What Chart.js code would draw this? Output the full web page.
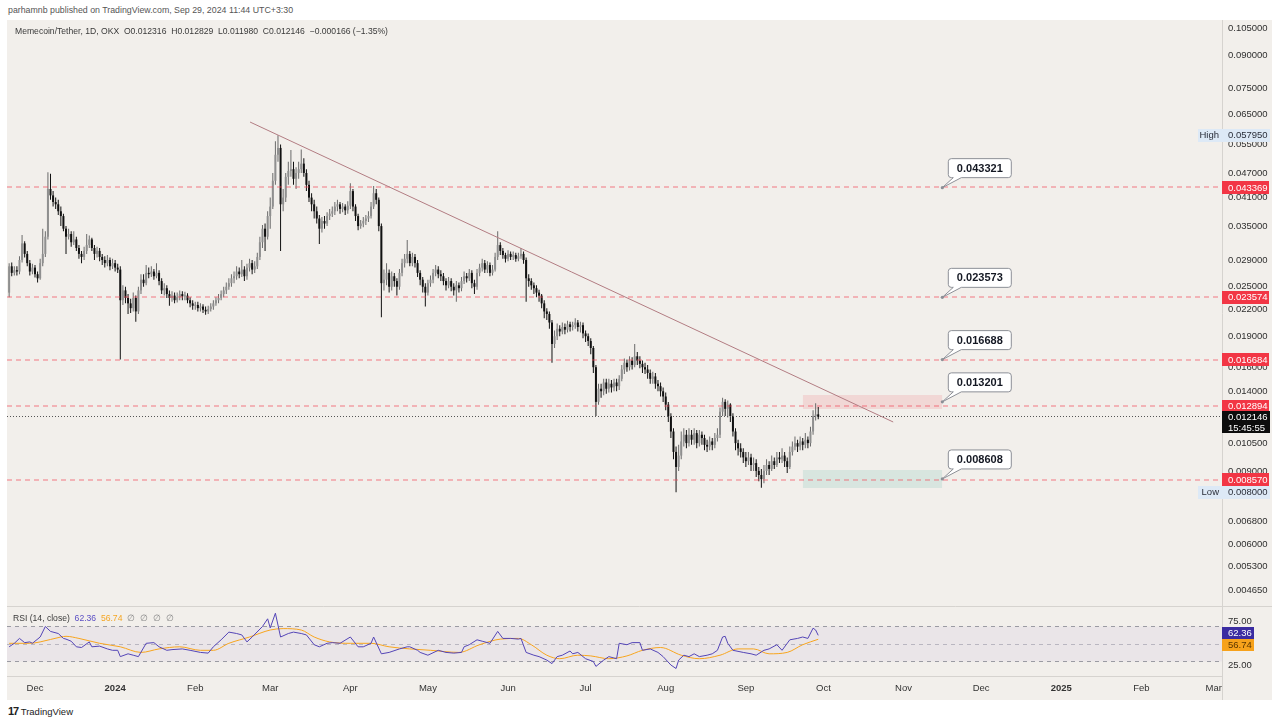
<!DOCTYPE html>
<html><head><meta charset="utf-8"><title>Memecoin/Tether 1D</title>
<script src="https://cdn.jsdelivr.net/npm/chart.js@4.4.1/dist/chart.umd.min.js"></script>
<style>
html,body{margin:0;padding:0;background:#fff;}
body{width:1280px;height:723px;position:relative;overflow:hidden;font-family:"Liberation Sans",Arial,sans-serif;}
.t{position:absolute;white-space:pre;line-height:12px;}
#frame{position:absolute;left:7px;top:20px;width:1265px;height:680px;background:#f2efeb;}
canvas{position:absolute;left:7px;}
#c1{top:20px;} #c2{top:606px;}
</style></head><body>
<div class="t" style="left:8px;top:4px;font-size:8.8px;color:#555">parhamnb published on TradingView.com, Sep 29, 2024 11:44 UTC+3:30</div>
<div id="frame"></div>
<canvas id="c1" width="1265" height="586"></canvas>
<canvas id="c2" width="1265" height="94"></canvas>
<div class="t" style="left:15px;top:25px;font-size:8.6px;color:#3a3a3a">Memecoin/Tether, 1D, OKX  O0.012316  H0.012829  L0.011980  C0.012146  −0.000166 (−1.35%)</div>
<div class="t" style="left:13px;top:612px;font-size:8.6px;color:#3a3a3a">RSI (14, close)  <span style="color:#5b4fc4">62.36</span>  <span style="color:#f5a623">56.74</span>  <span style="color:#888">∅  ∅  ∅  ∅</span></div>
<div class="t" style="left:8px;top:705px;font-size:9.5px;color:#222"><b style="letter-spacing:-1px;font-size:11px">17</b> TradingView</div>
<script>
// ---- candles: index 0 = 2023-11-21 (daily, OKX MEME/USDT) ----
const firstDay = -10; // days relative to 2023-12-01
const opens = [
0.0242,0.0280,0.0270,0.0274,0.0272,0.0290,0.0318,0.0300,0.0285,0.0272,
0.0278,0.0268,0.0262,0.0285,0.0300,0.0330,0.0430,0.0415,0.0400,0.0395,
0.0380,0.0370,0.0345,0.0330,0.0335,0.0320,0.0325,0.0310,0.0300,0.0295,
0.0305,0.0315,0.0325,0.0310,0.0300,0.0305,0.0295,0.0290,0.0285,0.0290,
0.0280,0.0285,0.0278,0.0275,0.0232,0.0245,0.0235,0.0228,0.0222,0.0235,
0.0218,0.0245,0.0260,0.0255,0.0270,0.0268,0.0272,0.0265,0.0270,0.0258,
0.0245,0.0248,0.0240,0.0235,0.0238,0.0232,0.0236,0.0240,0.0237,0.0238,
0.0232,0.0228,0.0225,0.0226,0.0222,0.0224,0.0220,0.0218,0.0221,0.0224,
0.0228,0.0232,0.0235,0.0240,0.0245,0.0250,0.0255,0.0262,0.0265,0.0272,
0.0268,0.0275,0.0265,0.0278,0.0285,0.0275,0.0280,0.0295,0.0320,0.0345,
0.0330,0.0370,0.0390,0.0450,0.0520,0.0540,0.0395,0.0410,0.0460,0.0475,
0.0480,0.0455,0.0470,0.0480,0.0495,0.0470,0.0440,0.0410,0.0395,0.0380,
0.0365,0.0345,0.0360,0.0355,0.0370,0.0375,0.0380,0.0390,0.0395,0.0385,
0.0390,0.0382,0.0392,0.0425,0.0390,0.0370,0.0350,0.0355,0.0360,0.0365,
0.0370,0.0390,0.0420,0.0405,0.0350,0.0255,0.0260,0.0270,0.0250,0.0265,
0.0258,0.0250,0.0270,0.0285,0.0292,0.0300,0.0285,0.0295,0.0285,0.0270,
0.0260,0.0250,0.0242,0.0255,0.0260,0.0270,0.0275,0.0268,0.0265,0.0258,
0.0252,0.0258,0.0250,0.0245,0.0252,0.0248,0.0258,0.0265,0.0262,0.0270,
0.0255,0.0250,0.0270,0.0278,0.0285,0.0275,0.0282,0.0270,0.0275,0.0295,
0.0315,0.0305,0.0298,0.0292,0.0300,0.0295,0.0298,0.0292,0.0296,0.0300,
0.0290,0.0262,0.0258,0.0252,0.0248,0.0242,0.0238,0.0228,0.0218,0.0215,
0.0205,0.0182,0.0190,0.0198,0.0195,0.0200,0.0197,0.0203,0.0200,0.0202,
0.0205,0.0200,0.0202,0.0193,0.0190,0.0185,0.0178,0.0160,0.0132,0.0142,
0.0140,0.0147,0.0142,0.0146,0.0143,0.0147,0.0144,0.0150,0.0158,0.0164,
0.0160,0.0166,0.0162,0.0170,0.0166,0.0163,0.0160,0.0158,0.0155,0.0150,
0.0152,0.0146,0.0144,0.0140,0.0136,0.0130,0.0122,0.0112,0.0100,0.0092,
0.0098,0.0106,0.0110,0.0105,0.0110,0.0107,0.0111,0.0105,0.0110,0.0108,
0.0104,0.0103,0.0106,0.0104,0.0108,0.0110,0.0125,0.0132,0.0127,0.0130,
0.0122,0.0112,0.0105,0.0102,0.0100,0.0097,0.0095,0.0097,0.0093,0.0094,
0.0090,0.0088,0.0086,0.0090,0.0093,0.0091,0.0095,0.0093,0.0097,0.0096,
0.0098,0.0095,0.0092,0.0100,0.0103,0.0105,0.0103,0.0106,0.0104,0.0107,
0.0105,0.0112,0.0122,0.012316];
const highs = [
0.0285,0.0286,0.0280,0.0280,0.0296,0.0333,0.0322,0.0305,0.0290,0.0284,
0.0282,0.0272,0.0292,0.0345,0.0340,0.0472,0.0468,0.0425,0.0410,0.0405,
0.0390,0.0375,0.0350,0.0345,0.0340,0.0340,0.0330,0.0315,0.0305,0.0312,
0.0335,0.0332,0.0328,0.0315,0.0312,0.0310,0.0300,0.0296,0.0298,0.0294,
0.0292,0.0290,0.0284,0.0280,0.0252,0.0250,0.0240,0.0234,0.0242,0.0238,
0.0250,0.0268,0.0268,0.0282,0.0278,0.0280,0.0276,0.0285,0.0274,0.0262,
0.0255,0.0252,0.0245,0.0244,0.0242,0.0242,0.0245,0.0244,0.0243,0.0241,
0.0236,0.0232,0.0230,0.0230,0.0228,0.0227,0.0224,0.0225,0.0228,0.0232,
0.0236,0.0240,0.0245,0.0250,0.0256,0.0262,0.0268,0.0272,0.0280,0.0278,
0.0290,0.0280,0.0284,0.0292,0.0290,0.0288,0.0302,0.0330,0.0352,0.0355,
0.0380,0.0410,0.0470,0.0560,0.05795,0.0550,0.0430,0.0470,0.0500,0.0534,
0.0500,0.0485,0.0500,0.0535,0.0510,0.0480,0.0450,0.0420,0.0405,0.0390,
0.0372,0.0368,0.0370,0.0378,0.0385,0.0390,0.0400,0.0405,0.0400,0.0398,
0.0395,0.0402,0.0444,0.0430,0.0395,0.0375,0.0362,0.0368,0.0372,0.0380,
0.0400,0.0437,0.0430,0.0410,0.0355,0.0275,0.0285,0.0275,0.0272,0.0270,
0.0262,0.0276,0.0292,0.0300,0.0324,0.0305,0.0302,0.0300,0.0290,0.0274,
0.0264,0.0255,0.0260,0.0266,0.0276,0.0282,0.0280,0.0274,0.0270,0.0262,
0.0264,0.0262,0.0255,0.0258,0.0256,0.0264,0.0272,0.0270,0.0276,0.0274,
0.0260,0.0276,0.0284,0.0292,0.0290,0.0288,0.0286,0.0282,0.0302,0.0340,
0.0320,0.0310,0.0302,0.0306,0.0304,0.0304,0.0302,0.0302,0.0310,0.0304,
0.0294,0.0268,0.0262,0.0256,0.0252,0.0246,0.0240,0.0232,0.0222,0.0218,
0.0208,0.0196,0.0204,0.0202,0.0205,0.0204,0.0207,0.0206,0.0206,0.0210,
0.0208,0.0206,0.0205,0.0196,0.0193,0.0188,0.0180,0.0162,0.0146,0.0146,
0.0150,0.0150,0.0150,0.0149,0.0150,0.0150,0.0153,0.0162,0.0168,0.0167,
0.0170,0.0169,0.0182,0.0174,0.0170,0.0166,0.0164,0.0162,0.0158,0.0156,
0.0155,0.0149,0.0147,0.0143,0.0139,0.0132,0.0124,0.0114,0.0103,0.0104,
0.0112,0.0114,0.0113,0.0114,0.0113,0.0114,0.0113,0.0113,0.0112,0.0110,
0.0107,0.0109,0.0108,0.0111,0.0114,0.0128,0.0135,0.0134,0.0133,0.0131,
0.0124,0.0114,0.0107,0.0105,0.0102,0.0100,0.0100,0.0099,0.0097,0.0096,
0.0092,0.0091,0.0093,0.0096,0.0095,0.0098,0.0097,0.0100,0.0100,0.0102,
0.0100,0.0097,0.0103,0.0106,0.0109,0.0107,0.0109,0.0108,0.0111,0.0109,
0.0115,0.0126,0.0131,0.012829];
const lows = [
0.0236,0.0265,0.0266,0.0266,0.0268,0.0286,0.0294,0.0280,0.0266,0.0268,
0.0263,0.0256,0.0260,0.0280,0.0295,0.0325,0.0405,0.0390,0.0385,0.0372,
0.0350,0.0340,0.0300,0.0325,0.0312,0.0315,0.0305,0.0292,0.0285,0.0290,
0.0300,0.0310,0.0305,0.0290,0.0294,0.0288,0.0282,0.0278,0.0280,0.0274,
0.0276,0.0272,0.0270,0.0167,0.0226,0.0228,0.0215,0.0216,0.0218,0.0206,
0.0215,0.0240,0.0250,0.0252,0.0262,0.0264,0.0260,0.0262,0.0252,0.0240,
0.0238,0.0235,0.0225,0.0230,0.0228,0.0229,0.0232,0.0232,0.0232,0.0228,
0.0223,0.0220,0.0220,0.0218,0.0218,0.0216,0.0214,0.0215,0.0218,0.0220,
0.0225,0.0228,0.0232,0.0236,0.0240,0.0246,0.0250,0.0255,0.0260,0.0262,
0.0264,0.0258,0.0260,0.0272,0.0268,0.0270,0.0276,0.0290,0.0310,0.0305,
0.0325,0.0345,0.0385,0.0440,0.0500,0.0305,0.0380,0.0400,0.0440,0.0460,
0.0440,0.0430,0.0455,0.0470,0.0460,0.0425,0.0400,0.0380,0.0365,0.0355,
0.0317,0.0338,0.0345,0.0350,0.0362,0.0368,0.0372,0.0380,0.0375,0.0378,
0.0372,0.0375,0.0385,0.0380,0.0360,0.0342,0.0345,0.0348,0.0352,0.0358,
0.0365,0.0385,0.0395,0.0340,0.0211,0.0245,0.0252,0.0242,0.0245,0.0250,
0.0238,0.0246,0.0265,0.0278,0.0285,0.0280,0.0280,0.0278,0.0264,0.0252,
0.0242,0.0224,0.0238,0.0250,0.0255,0.0265,0.0262,0.0258,0.0252,0.0245,
0.0248,0.0244,0.0238,0.0230,0.0242,0.0244,0.0254,0.0256,0.0258,0.0248,
0.0240,0.0246,0.0265,0.0272,0.0270,0.0270,0.0265,0.0266,0.0272,0.0290,
0.0298,0.0292,0.0286,0.0288,0.0290,0.0290,0.0287,0.0288,0.0292,0.0284,
0.0230,0.0250,0.0246,0.0240,0.0236,0.0230,0.0222,0.0210,0.0208,0.0198,
0.0164,0.0178,0.0186,0.0190,0.0192,0.0192,0.0194,0.0195,0.0196,0.0198,
0.0195,0.0194,0.0188,0.0184,0.0180,0.0172,0.0155,0.0122,0.0130,0.0135,
0.0137,0.0138,0.0139,0.0139,0.0140,0.0140,0.0141,0.0148,0.0154,0.0156,
0.0157,0.0158,0.0160,0.0162,0.0159,0.0155,0.0154,0.0150,0.0146,0.0146,
0.0142,0.0140,0.0136,0.0132,0.0126,0.0118,0.0108,0.0096,0.0080,0.0090,
0.0096,0.0103,0.0102,0.0103,0.0104,0.0104,0.0102,0.0103,0.0104,0.0101,
0.0100,0.0101,0.0101,0.0102,0.0106,0.0108,0.0122,0.0122,0.0121,0.0118,
0.0109,0.0101,0.0098,0.0097,0.0094,0.0092,0.0093,0.0090,0.0090,0.0087,
0.0085,0.0082,0.0084,0.0088,0.0088,0.0090,0.0091,0.0092,0.0094,0.0094,
0.0092,0.0089,0.0091,0.0098,0.0101,0.0100,0.0101,0.0101,0.0102,0.0102,
0.0103,0.0110,0.0119,0.011980];
const closes = [
0.0280,0.0270,0.0274,0.0272,0.0290,0.0318,0.0300,0.0285,0.0272,0.0278,
0.0268,0.0262,0.0285,0.0300,0.0330,0.0430,0.0415,0.0400,0.0395,0.0380,
0.0370,0.0345,0.0330,0.0335,0.0320,0.0325,0.0310,0.0300,0.0295,0.0305,
0.0315,0.0325,0.0310,0.0300,0.0305,0.0295,0.0290,0.0285,0.0290,0.0280,
0.0285,0.0278,0.0275,0.0232,0.0245,0.0235,0.0228,0.0222,0.0235,0.0218,
0.0245,0.0260,0.0255,0.0270,0.0268,0.0272,0.0265,0.0270,0.0258,0.0245,
0.0248,0.0240,0.0235,0.0238,0.0232,0.0236,0.0240,0.0237,0.0238,0.0232,
0.0228,0.0225,0.0226,0.0222,0.0224,0.0220,0.0218,0.0221,0.0224,0.0228,
0.0232,0.0235,0.0240,0.0245,0.0250,0.0255,0.0262,0.0265,0.0272,0.0268,
0.0275,0.0265,0.0278,0.0285,0.0275,0.0280,0.0295,0.0320,0.0345,0.0330,
0.0370,0.0390,0.0450,0.0520,0.0540,0.0395,0.0410,0.0460,0.0475,0.0480,
0.0455,0.0470,0.0480,0.0495,0.0470,0.0440,0.0410,0.0395,0.0380,0.0365,
0.0345,0.0360,0.0355,0.0370,0.0375,0.0380,0.0390,0.0395,0.0385,0.0390,
0.0382,0.0392,0.0425,0.0390,0.0370,0.0350,0.0355,0.0360,0.0365,0.0370,
0.0390,0.0420,0.0405,0.0350,0.0255,0.0260,0.0270,0.0250,0.0265,0.0258,
0.0250,0.0270,0.0285,0.0292,0.0300,0.0285,0.0295,0.0285,0.0270,0.0260,
0.0250,0.0242,0.0255,0.0260,0.0270,0.0275,0.0268,0.0265,0.0258,0.0252,
0.0258,0.0250,0.0245,0.0252,0.0248,0.0258,0.0265,0.0262,0.0270,0.0255,
0.0250,0.0270,0.0278,0.0285,0.0275,0.0282,0.0270,0.0275,0.0295,0.0315,
0.0305,0.0298,0.0292,0.0300,0.0295,0.0298,0.0292,0.0296,0.0300,0.0290,
0.0262,0.0258,0.0252,0.0248,0.0242,0.0238,0.0228,0.0218,0.0215,0.0205,
0.0182,0.0190,0.0198,0.0195,0.0200,0.0197,0.0203,0.0200,0.0202,0.0205,
0.0200,0.0202,0.0193,0.0190,0.0185,0.0178,0.0160,0.0132,0.0142,0.0140,
0.0147,0.0142,0.0146,0.0143,0.0147,0.0144,0.0150,0.0158,0.0164,0.0160,
0.0166,0.0162,0.0170,0.0166,0.0163,0.0160,0.0158,0.0155,0.0150,0.0152,
0.0146,0.0144,0.0140,0.0136,0.0130,0.0122,0.0112,0.0100,0.0092,0.0098,
0.0106,0.0110,0.0105,0.0110,0.0107,0.0111,0.0105,0.0110,0.0108,0.0104,
0.0103,0.0106,0.0104,0.0108,0.0110,0.0125,0.0132,0.0127,0.0130,0.0122,
0.0112,0.0105,0.0102,0.0100,0.0097,0.0095,0.0097,0.0093,0.0094,0.0090,
0.0088,0.0086,0.0090,0.0093,0.0091,0.0095,0.0093,0.0097,0.0096,0.0098,
0.0095,0.0092,0.0100,0.0103,0.0105,0.0103,0.0106,0.0104,0.0107,0.0105,
0.0112,0.0122,0.012316,0.012146];

const rsiSeries = [[0,46],[2,51],[4,58],[6,52],[8,53],[9,51],[12,60],[14,75],[16,68],[19,65],[21,58],[22,57],[24,54],[26,46],[28,45],[31,53],[32,46],[35,47],[38,43],[40,41],[42,41],[43,32],[46,36],[48,34],[50,32],[53,51],[56,52],[58,46],[61,41],[63,42],[67,43],[70,41],[74,38],[77,37],[79,46],[82,56],[85,67],[88,65],[90,63],[92,53],[94,60],[98,75],[100,86],[101,73],[103,94],[105,60],[108,65],[110,67],[113,65],[115,63],[118,49],[120,46],[123,51],[125,52],[128,51],[132,60],[135,46],[137,46],[140,51],[141,60],[144,36],[147,38],[151,43],[154,46],[155,46],[158,41],[159,38],[162,34],[166,41],[169,38],[172,37],[175,38],[176,46],[178,49],[181,56],[183,54],[186,51],[189,68],[191,58],[194,58],[197,57],[198,58],[200,38],[203,34],[205,32],[208,27],[210,22],[212,32],[214,34],[217,40],[218,36],[220,38],[223,29],[226,25],[227,18],[230,27],[232,32],[235,29],[236,51],[239,49],[241,52],[244,52],[245,41],[248,43],[251,38],[253,32],[256,20],[258,15],[259,27],[261,34],[263,32],[265,36],[267,32],[270,34],[272,36],[274,41],[276,60],[277,61],[278,51],[280,41],[284,38],[287,36],[289,34],[292,41],[294,43],[297,49],[299,41],[302,56],[305,58],[307,60],[309,58],[311,72.6],[312,70],[313,62.36]];
const maSeries = [[0,51],[8,51],[12,53],[20,60],[22,61],[27,58],[35,51],[43,46],[51,38],[58,43],[66,46],[74,41],[79,41],[85,51],[93,60],[101,70],[106,72],[113,70],[118,60],[124,53],[132,51],[140,51],[147,46],[155,43],[163,41],[174,38],[182,49],[190,57],[197,58],[202,49],[208,34],[213,29],[220,34],[225,33],[232,29],[239,33],[245,41],[252,45],[260,34],[267,29],[275,34],[282,43],[288,43],[294,36],[301,38],[307,49],[313,56.74]];

// ---- axes ----
const monthDays = [0,31,62,91,122,152,183,213,244,275,305,336,366,397,428,456];
const monthLabels = ['Dec','2024','Feb','Mar','Apr','May','Jun','Jul','Aug','Sep','Oct','Nov','Dec','2025','Feb','Mar'];
const priceTicks = [0.105,0.09,0.075,0.065,0.055,0.047,0.041,0.035,0.029,0.025,0.022,0.019,0.016,0.014,0.012,0.0105,0.009,0.0078,0.0068,0.006,0.0053,0.00465];
const viewDays = [-10.83, 459.2];
const priceRange = [0.004254, 0.1098];
const rsiRange = [4.3, 104.3];
const rsiLevels = [75, 50, 25];

// ---- drawings ----
const levels = [0.043369, 0.023574, 0.016684, 0.012894, 0.008570];
const calloutValues = [0.043321, 0.023573, 0.016688, 0.013201, 0.008608];
const calloutDay = 351;
const zoneDays = [297, 351];
const supplyZone = [0.01269, 0.01371];
const demandZone = [0.00819, 0.00905];
const trendDays = [83.2, 332];
const trendPrices = [0.06234, 0.011806];
const lastPrice = 0.012146;
const countdown = '15:45:55';
const highValue = 0.05795, lowValue = 0.008;
const rsiLast = 62.36, maLast = 56.74;

const FONT = '"Liberation Sans", Arial, sans-serif';
Chart.defaults.font.family = FONT;

const candleX = closes.map((_, i) => i + firstDay);
const isUp = closes.map((c, i) => c >= opens[i]);
const flat = (days, v) => days.map(d => ({x: d, y: v}));

// aligns horizontal lines to the pixel grid: 'center' for 1px lines, 'edge' for 2px lines
const pixelSnap = {
  id: 'pixelSnap',
  beforeDatasetDraw(chart, args) {
    const ds = chart.data.datasets[args.index];
    if (!ds.snap) return;
    const py = args.meta.data[0].y;
    const target = ds.snap === 'edge' ? Math.round(py) : Math.floor(py) + 0.5;
    chart.ctx.save();
    chart.ctx.translate(0, target - py);
  },
  afterDatasetDraw(chart, args) {
    if (chart.data.datasets[args.index].snap) chart.ctx.restore();
  }
};

function badge(ctx, x0, yc, w, h, bg, fg, text) {
  ctx.fillStyle = bg; ctx.fillRect(x0, Math.round(yc - h / 2), w, h);
  ctx.fillStyle = fg; ctx.font = '9.5px ' + FONT; ctx.textAlign = 'left'; ctx.textBaseline = 'middle';
  ctx.fillText(text, x0 + 6, yc + 0.5);
}
function drawCallout(ctx, ax, ay, text) {
  const bx = ax + 6, by = ay - 29, bw = 63, bh = 19, r = 3;
  ctx.beginPath();
  ctx.moveTo(bx + r, by);
  ctx.lineTo(bx + bw - r, by); ctx.arcTo(bx + bw, by, bx + bw, by + r, r);
  ctx.lineTo(bx + bw, by + bh - r); ctx.arcTo(bx + bw, by + bh, bx + bw - r, by + bh, r);
  ctx.lineTo(bx + 13, by + bh); ctx.lineTo(ax, ay); ctx.lineTo(bx + 5, by + bh);
  ctx.lineTo(bx + r, by + bh); ctx.arcTo(bx, by + bh, bx, by + bh - r, r);
  ctx.lineTo(bx, by + r); ctx.arcTo(bx, by, bx + r, by, r);
  ctx.closePath();
  ctx.fillStyle = '#fff'; ctx.fill();
  ctx.strokeStyle = '#8c8f96'; ctx.lineWidth = 1; ctx.stroke();
  ctx.fillStyle = '#131722'; ctx.font = 'bold 11px ' + FONT; ctx.textAlign = 'center'; ctx.textBaseline = 'middle';
  ctx.fillText(text, bx + bw / 2, by + bh / 2 + 0.5);
  ctx.beginPath(); ctx.arc(ax, ay, 1.6, 0, Math.PI * 2); ctx.fillStyle = '#8c8f96'; ctx.fill();
}

const mainOverlay = {
  id: 'mainOverlay',
  afterDraw(chart) {
    const {ctx, chartArea: a, scales: {x, y}} = chart;
    ctx.save();
    calloutValues.forEach(v => drawCallout(ctx, x.getPixelForValue(calloutDay), y.getPixelForValue(v), v.toFixed(6)));
    levels.forEach(v => badge(ctx, a.right, y.getPixelForValue(v), 47, 13, '#f23645', '#fff', v.toFixed(6)));
    const py = y.getPixelForValue(lastPrice);
    ctx.fillStyle = '#0d0d0d'; ctx.fillRect(a.right, Math.round(py - 6), 48, 22);
    ctx.fillStyle = '#fff'; ctx.font = '9.5px ' + FONT; ctx.textAlign = 'left'; ctx.textBaseline = 'middle';
    ctx.fillText(lastPrice.toFixed(6), a.right + 6, py + 0.5);
    ctx.fillText(countdown, a.right + 6, py + 11);
    [[highValue, 'High'], [lowValue, 'Low']].forEach(([v, lbl]) => {
      const yy = y.getPixelForValue(v);
      ctx.fillStyle = '#dde9f6'; ctx.fillRect(a.right - 24, Math.round(yy - 6.5), 72, 13);
      ctx.fillStyle = '#2a2e39'; ctx.font = '9.5px ' + FONT; ctx.textAlign = 'right'; ctx.textBaseline = 'middle';
      ctx.fillText(lbl, a.right - 3, yy + 0.5);
      ctx.textAlign = 'left';
      ctx.fillText(v.toFixed(6), a.right + 6, yy + 0.5);
    });
    ctx.restore();
  }
};

const rsiOverlay = {
  id: 'rsiOverlay',
  afterDraw(chart) {
    const {ctx, chartArea: a, scales: {y}} = chart;
    ctx.save();
    ctx.strokeStyle = '#d6d3cf'; ctx.lineWidth = 1;
    ctx.beginPath(); ctx.moveTo(0, 0.5); ctx.lineTo(chart.width, 0.5); ctx.stroke();
    ctx.beginPath(); ctx.moveTo(Math.round(a.right) + 0.5, 0); ctx.lineTo(Math.round(a.right) + 0.5, chart.height); ctx.stroke();
    ctx.fillStyle = '#2f2f2f'; ctx.font = '9.5px ' + FONT; ctx.textAlign = 'left'; ctx.textBaseline = 'middle';
    ctx.fillText(rsiLevels[0].toFixed(2), a.right + 6, y.getPixelForValue(rsiLevels[0]) - 5);
    ctx.fillText(rsiLevels[2].toFixed(2), a.right + 6, y.getPixelForValue(rsiLevels[2]) + 4);
    let y1 = y.getPixelForValue(rsiLast), y2 = y.getPixelForValue(maLast);
    if (Math.abs(y2 - y1) < 12) { const m = (y1 + y2) / 2; y1 = m - 4; y2 = m + 8; }
    badge(ctx, a.right, y1, 32, 12, '#3b2ca1', '#fff', rsiLast.toFixed(2));
    badge(ctx, a.right, y2, 32, 12, '#f7a21b', '#5a3600', maLast.toFixed(2));
    ctx.restore();
  }
};

const mainDatasets = [
  {type:'line', data: flat(zoneDays, supplyZone[1]), borderWidth:0, pointRadius:0, fill:false, order:6},
  {type:'line', data: flat(zoneDays, supplyZone[0]), borderWidth:0, pointRadius:0, fill:'-1', backgroundColor:'rgba(242,54,69,0.13)', order:6},
  {type:'line', data: flat(zoneDays, demandZone[1]), borderWidth:0, pointRadius:0, fill:false, order:6},
  {type:'line', data: flat(zoneDays, demandZone[0]), borderWidth:0, pointRadius:0, fill:'-1', backgroundColor:'rgba(8,153,129,0.11)', order:6},
  {type:'bar', data: candleX.map((d, i) => ({x: d, y: [lows[i], highs[i]]})), backgroundColor: isUp.map(u => u ? '#6a6a6a' : '#111'), barThickness:1, grouped:false, inflateAmount:0, borderWidth:0, order:4},
  {type:'bar', data: candleX.map((d, i) => ({x: d, y: [opens[i], closes[i]]})), backgroundColor: isUp.map(u => u ? '#8f8f8f' : '#111'), barThickness:2, minBarLength:1, grouped:false, inflateAmount:0, borderWidth:0, order:3},
  ...levels.map(v => ({type:'line', snap:'edge', data: flat(viewDays, v), borderColor:'rgba(242,72,88,0.36)', borderWidth:2, borderDash:[5,4], pointRadius:0, fill:false, order:1})),
  {type:'line', snap:'center', data: flat(viewDays, lastPrice), borderColor:'#555', borderWidth:1, borderDash:[1,2], pointRadius:0, fill:false, order:1},
  {type:'line', data: trendDays.map((d, k) => ({x: d, y: trendPrices[k]})), borderColor:'#b27c82', borderWidth:1, pointRadius:0, fill:false, order:0}
];

new Chart(document.getElementById('c1'), {
  type: 'bar',
  data: {datasets: mainDatasets},
  options: {
    responsive:false, animation:false, events:[],
    layout:{padding:0},
    plugins:{legend:{display:false}, tooltip:{enabled:false}},
    scales:{
      x:{type:'linear', min:viewDays[0], max:viewDays[1], offset:false, display:false, grid:{offset:false}},
      y:{type:'logarithmic', position:'right', min:priceRange[0], max:priceRange[1], bounds:'data', beginAtZero:false,
         afterBuildTicks: s => { s.ticks = priceTicks.map(v => ({value: v})); },
         afterFit: s => { s.width = 50; s.paddingTop = 0; s.paddingBottom = 0; },
         grid:{display:false, drawTicks:false},
         border:{display:true, color:'#d6d3cf'},
         ticks:{autoSkip:false, padding:6, color:'#2f2f2f', font:{size:9.5}, callback: v => Number(v).toFixed(6)}}
    }
  },
  plugins:[pixelSnap, mainOverlay]
});

new Chart(document.getElementById('c2'), {
  type: 'line',
  data: {datasets: [
    {data: rsiSeries.map(([i, v]) => ({x: i + firstDay, y: v})), borderColor:'#5344b6', borderWidth:1, pointRadius:0, tension:0, fill:false, order:0},
    {data: maSeries.map(([i, v]) => ({x: i + firstDay, y: v})), borderColor:'#f7a41d', borderWidth:1, pointRadius:0, cubicInterpolationMode:'monotone', fill:false, order:1},
    {snap:'center', data: flat(viewDays, rsiLevels[0]), borderColor:'#9b9ba3', borderWidth:1, borderDash:[4,4], pointRadius:0, fill:false, order:2},
    {data: flat(viewDays, rsiLevels[2]), borderColor:'#9b9ba3', borderWidth:1, borderDash:[4,4], pointRadius:0, fill:'-1', backgroundColor:'rgba(126,87,194,0.06)', order:2},
    {snap:'center', data: flat(viewDays, rsiLevels[1]), borderColor:'rgba(155,155,163,0.6)', borderWidth:1, borderDash:[4,4], pointRadius:0, fill:false, order:2}
  ]},
  options: {
    responsive:false, animation:false, events:[],
    layout:{padding:0},
    plugins:{legend:{display:false}, tooltip:{enabled:false}},
    scales:{
      x:{type:'linear', position:'bottom', min:viewDays[0], max:viewDays[1], offset:false,
         afterBuildTicks: s => { s.ticks = monthDays.map(v => ({value: v})); },
         afterFit: s => { s.height = 24; s.paddingLeft = 0; s.paddingRight = 0; },
         grid:{display:false, drawTicks:false},
         border:{display:true, color:'#d6d3cf'},
         ticks:{autoSkip:false, maxRotation:0, padding:7, color:'#333',
                font: c => ({size:9.5, weight: /^\d{4}$/.test(monthLabels[c.index]) ? 'bold' : 'normal'}),
                callback: (v, i) => monthLabels[i]}},
      y:{type:'linear', position:'right', min:rsiRange[0], max:rsiRange[1],
         afterBuildTicks: s => { s.ticks = [{value: rsiLevels[0]}, {value: rsiLevels[2]}]; },
         afterFit: s => { s.width = 50; s.paddingTop = 0; s.paddingBottom = 0; },
         grid:{display:false, drawTicks:false},
         border:{display:true, color:'#d6d3cf'},
         ticks:{display:false}}
    }
  },
  plugins:[pixelSnap, rsiOverlay]
});
</script>
</body></html>
